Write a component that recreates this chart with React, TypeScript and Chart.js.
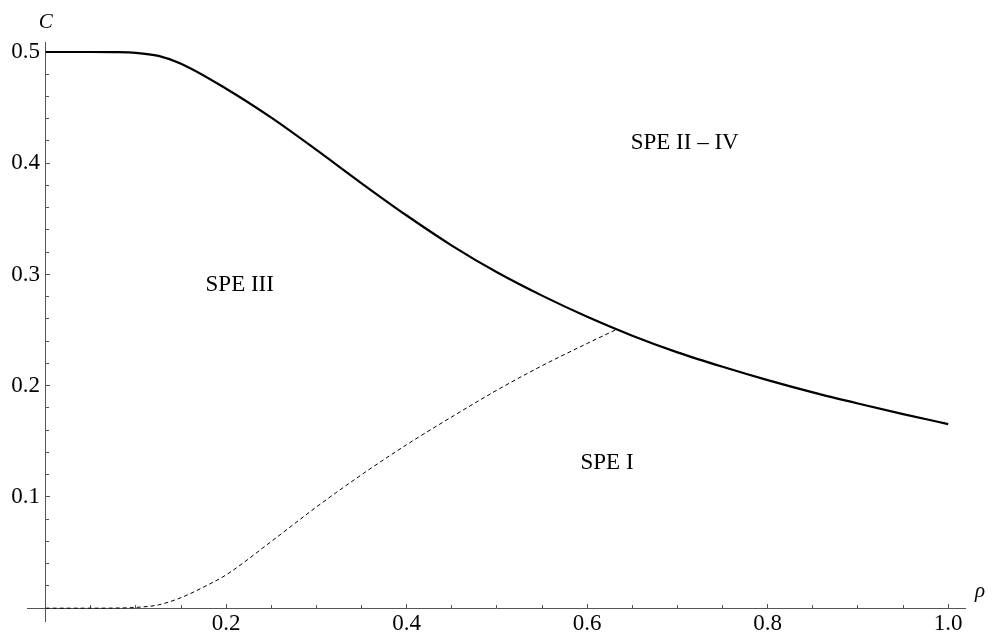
import { useEffect, useRef } from 'react';
import { Chart, registerables } from 'chart.js';

Chart.register(...registerables);

// Solid boundary curve C(ρ)
const boundaryRho = [0, 0.05, 0.075, 0.10, 0.125, 0.15, 0.20, 0.25, 0.30, 0.35, 0.40, 0.45, 0.50, 0.55, 0.60, 0.65, 0.70, 0.75, 0.80, 0.85, 0.90, 0.95, 1.00];
const boundaryC = [0.500, 0.500, 0.4999, 0.4993, 0.4965, 0.4895, 0.467, 0.441, 0.412, 0.382, 0.353, 0.326, 0.302, 0.281, 0.262, 0.245, 0.230, 0.217, 0.205, 0.194, 0.184, 0.1745, 0.1655];

// Dashed curve separating SPE I and SPE III
const dashedRho = [0, 0.05, 0.075, 0.10, 0.125, 0.15, 0.175, 0.20, 0.25, 0.30, 0.35, 0.40, 0.45, 0.50, 0.55, 0.60, 0.631];
const dashedC = [0, 0, 0.0001, 0.0007, 0.003, 0.0095, 0.019, 0.030, 0.060, 0.091, 0.120, 0.147, 0.172, 0.196, 0.218, 0.238, 0.250];

// Region labels
const regionLabels = ['SPE II \u2013 IV', 'SPE III', 'SPE I'];
const regionRho = [0.708, 0.215, 0.622];
const regionC = [0.418, 0.291, 0.131];

const xTitle = '\u03C1';
const yTitle = 'C';

const X_MIN = -0.0207;
const X_MAX = 1.0186;
const Y_MIN = -0.0117;
const Y_MAX = 0.509;

const FONT = '"Liberation Serif", "Times New Roman", serif';
const AXIS_COLOR = '#555';

const textPlugin = {
  id: 'textLabels',
  afterDraw(chart: any) {
    const { ctx, chartArea } = chart;
    const x = chart.scales.x;
    const y = chart.scales.y;
    ctx.save();
    ctx.fillStyle = '#000';
    ctx.font = `italic 21px ${FONT}`;
    ctx.textBaseline = 'alphabetic';
    ctx.textAlign = 'center';
    ctx.fillText(yTitle, x.getPixelForValue(0), chartArea.top - 14);
    ctx.textAlign = 'left';
    ctx.fillText(xTitle, chartArea.right + 10, y.getPixelForValue(0) - 11);
    ctx.font = `23px ${FONT}`;
    ctx.textAlign = 'center';
    ctx.textBaseline = 'middle';
    regionLabels.forEach((t, i) => {
      ctx.fillText(t, x.getPixelForValue(regionRho[i]), y.getPixelForValue(regionC[i]));
    });
    ctx.restore();
  },
};

export default function App() {
  const ref = useRef<HTMLCanvasElement>(null);
  useEffect(() => {
    if (!ref.current) return;
    const fmtX = (v: any) => (Number(v) === 0 ? '' : Number(v).toFixed(1));
    const fmtY = (v: any) => (Number(v) === 0 ? '' : Number(v).toFixed(1) + ' ');
    const chart = new Chart(ref.current, {
      type: 'line',
      data: {
        datasets: [
          {
            label: 'boundary',
            data: boundaryRho.map((r, i) => ({ x: r, y: boundaryC[i] })),
            borderColor: '#000',
            borderWidth: 2.2,
            pointRadius: 0,
            cubicInterpolationMode: 'monotone',
            fill: false,
          },
          {
            label: 'dashed',
            data: dashedRho.map((r, i) => ({ x: r, y: dashedC[i] })),
            borderColor: '#000',
            borderWidth: 1,
            borderDash: [4, 3],
            pointRadius: 0,
            cubicInterpolationMode: 'monotone',
            fill: false,
          },
        ],
      },
      options: {
        animation: false,
        responsive: false,
        layout: { padding: { left: 27, right: 28, top: 42, bottom: 21 } },
        plugins: { legend: { display: false }, tooltip: { enabled: false } },
        scales: {
          x: {
            type: 'linear',
            min: X_MIN,
            max: X_MAX,
            position: { y: 0 } as any,
            ticks: {
              stepSize: 0.2,
              includeBounds: false,
              autoSkip: false,
              maxRotation: 0,
              padding: 7,
              color: '#000',
              font: { family: FONT, size: 23 },
              callback: fmtX,
            },
            grid: { drawOnChartArea: false, drawTicks: true, tickLength: -5, color: AXIS_COLOR },
            border: { display: true, color: AXIS_COLOR, width: 1 },
          },
          xMinor: {
            type: 'linear',
            axis: 'x',
            min: X_MIN,
            max: X_MAX,
            position: { y: 0 } as any,
            ticks: { stepSize: 0.05, includeBounds: false, display: false, autoSkip: false },
            grid: { drawOnChartArea: false, drawTicks: true, tickLength: -3, color: AXIS_COLOR },
            border: { display: false },
          },
          y: {
            type: 'linear',
            min: Y_MIN,
            max: Y_MAX,
            position: { x: 0 } as any,
            ticks: {
              stepSize: 0.1,
              includeBounds: false,
              autoSkip: false,
              padding: 8,
              color: '#000',
              font: { family: FONT, size: 23 },
              callback: fmtY,
            },
            grid: { drawOnChartArea: false, drawTicks: true, tickLength: -5, color: AXIS_COLOR },
            border: { display: true, color: AXIS_COLOR, width: 1 },
          },
          yMinor: {
            type: 'linear',
            axis: 'y',
            min: Y_MIN,
            max: Y_MAX,
            position: { x: 0 } as any,
            ticks: { stepSize: 0.02, includeBounds: false, display: false, autoSkip: false },
            grid: { drawOnChartArea: false, drawTicks: true, tickLength: -3, color: AXIS_COLOR },
            border: { display: false },
          },
        },
      } as any,
      plugins: [textPlugin],
    });
    return () => chart.destroy();
  }, []);
  return (
    <div style={{ position: 'absolute', left: 0, top: 0, width: 993, height: 643 }}>
      <canvas ref={ref} width={993} height={643} style={{ display: 'block' }} />
    </div>
  );
}
